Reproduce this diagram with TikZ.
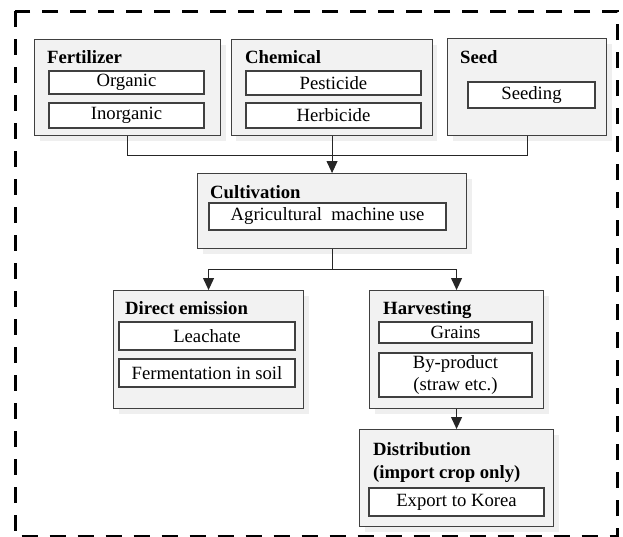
\documentclass[tikz,border=0pt]{standalone}
\usepackage{fontspec}
\setmainfont{Liberation Serif}
\usetikzlibrary{arrows.meta,calc}
\definecolor{boxfill}{HTML}{F2F2F2}
\definecolor{boxline}{HTML}{404040}
\definecolor{shadowc}{HTML}{EFEFEF}
\begin{document}
\begin{tikzpicture}[x=1pt,y=1pt,
  every node/.style={font=\fontsize{18.7}{21.5}\selectfont},
  outerbox/.style={draw=boxline,line width=1.1pt,fill=boxfill,anchor=north west,inner sep=0pt},
  innerbox/.style={draw=boxline,line width=1.1pt,fill=white,inner sep=0pt},
  titletext/.style={anchor=base west,inner sep=0pt,font=\fontsize{18.7}{21.5}\selectfont\bfseries},
  conn/.style={draw=black!85,line width=1pt},
  arr/.style={conn,-{Triangle[length=12pt,width=11pt]}}]
\useasboundingbox (0,0) rectangle (623,-536);
% outer dashed frame
\draw[line width=3pt,dash pattern=on 16pt off 12pt] (15,-11) rectangle (617,-536.5);
% shadows
\foreach \xa/\ya/\w/\h in {34/39/186/96,230/39/201/96,447/38/159/97,197/173/269/75,113/290/190/118,369/290/174/118,359/429/194/97}
  \fill[shadowc] (\xa+6,-\ya-6) rectangle ++(\w,-\h);
% outer boxes
\node[outerbox,minimum width=186pt,minimum height=96pt] (fert) at (34,-39) {};
\node[outerbox,minimum width=201pt,minimum height=96pt] (chem) at (231,-39) {};
\node[outerbox,minimum width=159pt,minimum height=97pt] (seed) at (447,-38) {};
\node[outerbox,minimum width=269pt,minimum height=75pt] (cult) at (197,-173) {};
\node[outerbox,minimum width=190pt,minimum height=118pt] (demi) at (113,-290) {};
\node[outerbox,minimum width=174pt,minimum height=118pt] (harv) at (369,-290) {};
\node[outerbox,minimum width=194pt,minimum height=97pt] (dist) at (359,-429) {};
% titles
\node[titletext] (tfert) at (47,-63) {Fertilizer};
\node[titletext] (tchem) at (245,-63) {Chemical};
\node[titletext] (tseed) at (460,-63) {Seed};
\node[titletext] (tcult) at (210,-198) {Cultivation};
\node[titletext] (tdemi) at (125,-314) {Direct emission};
\node[titletext] (tharv) at (383,-314) {Harvesting};
\node[titletext] (tdist1) at (373,-455) {Distribution};
\node[titletext] (tdist2) at (373,-478) {(import crop only)};
% inner boxes
\node[innerbox,minimum width=155pt,minimum height=23pt] (org) at (126.5,-82.5) {Organic};
\node[innerbox,minimum width=155pt,minimum height=25pt] (inorg) at (126.5,-115.5) {Inorganic};
\node[innerbox,minimum width=175pt,minimum height=24pt] (pest) at (333.5,-83) {Pesticide};
\node[innerbox,minimum width=175pt,minimum height=25pt] (herb) at (333.5,-115.5) {Herbicide};
\node[innerbox,minimum width=127pt,minimum height=26pt] (sdg) at (531.5,-95) {Seeding};
\node[innerbox,minimum width=237pt,minimum height=27pt] (mach) at (327.5,-216.5) {Agricultural\ \ machine use};
\node[innerbox,minimum width=176pt,minimum height=28pt] (leach) at (207,-336) {Leachate};
\node[innerbox,minimum width=176pt,minimum height=28pt] (ferm) at (207,-373) {Fermentation in soil};
\node[innerbox,minimum width=153pt,minimum height=21pt] (grain) at (455.5,-332.5) {Grains};
\node[innerbox,minimum width=153pt,minimum height=44pt,align=center] (byp) at (455.5,-375) {By-product\\(straw etc.)};
\node[innerbox,minimum width=175pt,minimum height=28pt] (exp) at (456.5,-502) {Export to Korea};
% connectors
\coordinate (j1) at ($(fert.south)+(0,-19)$);
\coordinate (j2) at ($(seed.south)+(0,-19)$);
\draw[conn] (fert.south) -- (j1) -- (j2) -- (seed.south);
\draw[arr] (chem.south) -- (chem.south |- cult.north);
\coordinate (j3) at ($(cult.south)+(0,-20)$);
\coordinate (j4) at (demi.north |- j3);
\coordinate (j5) at (harv.north |- j3);
\draw[conn] (cult.south) -- (j3);
\draw[arr] (j3) -- (j4) -- (demi.north);
\draw[arr] (j3) -- (j5) -- (harv.north);
\draw[arr] (harv.south) -- (dist.north);
\end{tikzpicture}
\end{document}
